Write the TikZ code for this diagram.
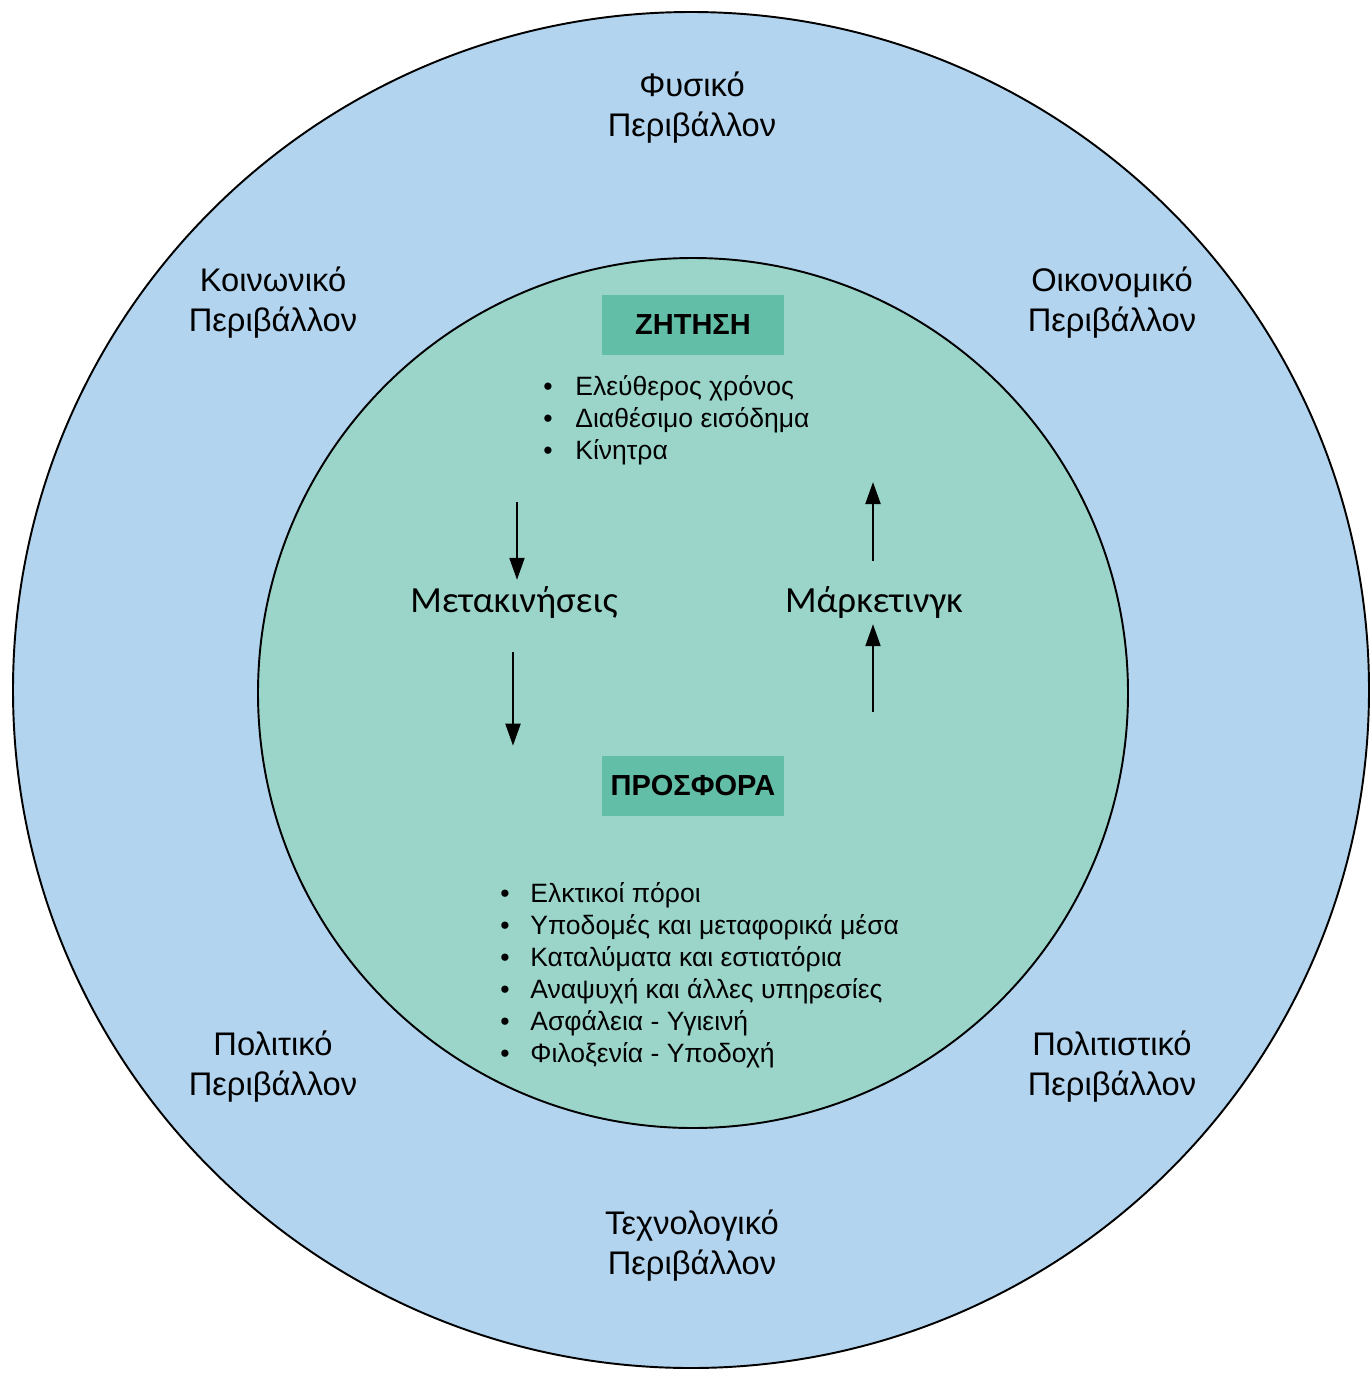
\documentclass[tikz,border=0pt]{standalone}
\usepackage{fontspec}
\setmainfont{Liberation Sans}
\newfontfamily\calib{Carlito}
\usetikzlibrary{arrows.meta,positioning}
\definecolor{envblue}{RGB}{178,212,238}
\definecolor{coreteal}{RGB}{155,213,202}
\definecolor{boxteal}{RGB}{99,190,168}
\tikzset{
	envlabel/.style={align=center, font=\fontsize{18.6}{22.8}\selectfont},
	headbox/.style={fill=boxteal, minimum width=3.64cm, minimum height=1.2cm, font=\fontsize{16.5}{20}\selectfont\bfseries},
	bul/.style={font=\fontsize{15.1}{18}\selectfont, inner sep=0pt},
	flowlabel/.style={font=\calib\fontsize{21}{25}\selectfont},
	flowarrow/.style={line width=1.2pt, -{Triangle[length=0.44cm, width=0.3cm]}}
}
\begin{document}
\begin{tikzpicture}[x=0.02cm, y=-0.02cm]
		\useasboundingbox (0,0) rectangle (1370,1376);
		%environment rings
		\draw[line width=1.1pt, fill=envblue] (691,690) circle[radius=678];
		\draw[line width=1.1pt, fill=coreteal] (693,693) circle[radius=435];
		
		\node[envlabel] (fys) at (692,108) {Φυσικό\\Περιβάλλον};
		\node[envlabel] (koin) at (273,303) {Κοινωνικό\\Περιβάλλον};
		\node[envlabel] (oik) at (1112,303) {Οικονομικό\\Περιβάλλον};
		\node[envlabel] (pol) at (273,1067) {Πολιτικό\\Περιβάλλον};
		\node[envlabel] (polit) at (1112,1067) {Πολιτιστικό\\Περιβάλλον};
		\node[envlabel] (tech) at (692,1246) {Τεχνολογικό\\Περιβάλλον};
		
		%demand and supply
		\node[headbox] (zit) at (693,325) {ΖΗΤΗΣΗ};
		\node[headbox] (prosf) at (693,786) {ΠΡΟΣΦΟΡΑ};
		
		\foreach \txt [count=\i from 0] in {Ελεύθερος χρόνος, Διαθέσιμο εισόδημα, Κίνητρα}{
			\node[bul, anchor=base] (zb\i) at (548, 395+32*\i) {•};
			\node[bul, anchor=base west] (zi\i) at (575, 395+32*\i) {\txt};
		}
		\foreach \txt [count=\i from 0] in {Ελκτικοί πόροι, Υποδομές και μεταφορικά μέσα, Καταλύματα και εστιατόρια, Αναψυχή και άλλες υπηρεσίες, Ασφάλεια - Υγιεινή, Φιλοξενία - Υποδοχή}{
			\node[bul, anchor=base] (pb\i) at (505, 902+32*\i) {•};
			\node[bul, anchor=base west] (pi\i) at (530, 902+32*\i) {\txt};
		}
		
		%flows
		\node[flowlabel] (meta) at (514,602) {Μετακινήσεις};
		\node[flowlabel] (mark) at (874,602) {Μάρκετινγκ};
		\coordinate (ma) at (517,502);
		\coordinate (mb) at (513,652);
		\coordinate (kb) at (873,712);
		\coordinate (kt) at (873,482);
		\draw[flowarrow] (ma) -- (ma |- meta.north);
		\draw[flowarrow, shorten >=0.2cm] (mb) -- (mb |- prosf.north);
		\draw[flowarrow] (kb) -- (kb |- mark.south);
		\draw[flowarrow, shorten <=0.38cm] (kt |- mark.north) -- (kt);
\end{tikzpicture}
\end{document}
